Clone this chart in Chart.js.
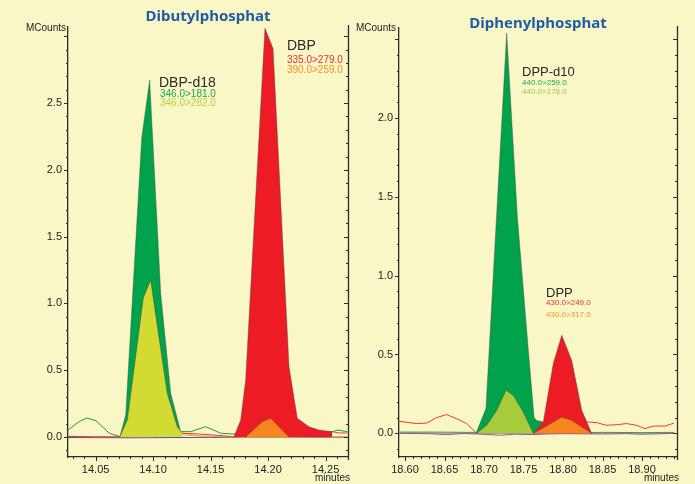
<!DOCTYPE html>
<html><head><meta charset="utf-8">
<script src="https://cdn.jsdelivr.net/npm/chart.js@4.4.1/dist/chart.umd.min.js"></script>
<style>
html,body{margin:0;padding:0;background:#faf7c7;}
body{width:695px;height:484px;position:relative;overflow:hidden;font-family:"Liberation Sans",Arial,sans-serif;color:#222;}
canvas{position:absolute;top:0;}
.t{position:absolute;white-space:nowrap;line-height:1;}
.title{font-family:"Noto Sans",sans-serif;font-weight:700;font-size:15px;color:#1f5ca6;text-align:center;width:200px;}
.lab{font-size:14px;color:#2a2a2a;}
.sm{font-size:10px;}
.xs{font-size:8px;}
.ax{font-size:10px;color:#222;}
</style></head><body>
<canvas id="c1" width="350" height="484" style="left:0px"></canvas>
<canvas id="c2" width="345" height="484" style="left:350px"></canvas>

<div class="t title" style="left:108px;top:8px">Dibutylphosphat</div>
<div class="t title" style="left:438px;top:15px">Diphenylphosphat</div>

<div class="t ax" style="left:26px;top:23px">MCounts</div>
<div class="t ax" style="left:356px;top:23px">MCounts</div>
<div class="t ax" style="left:315px;top:473px">minutes</div>
<div class="t ax" style="left:644px;top:473px">minutes</div>

<div class="t lab" style="left:159px;top:75px">DBP-d18</div>
<div class="t sm" style="left:160px;top:88.5px;color:#1aa84f">346.0&gt;181.0</div>
<div class="t sm" style="left:160px;top:97.5px;color:#b9cf3a">346.0&gt;282.0</div>
<div class="t lab" style="left:287px;top:38px">DBP</div>
<div class="t sm" style="left:287px;top:54.5px;color:#ee2a30">335.0&gt;279.0</div>
<div class="t sm" style="left:287px;top:64.5px;color:#f5902a">390.0&gt;259.0</div>

<div class="t lab" style="left:522px;top:65px;font-size:13px">DPP-d10</div>
<div class="t xs" style="left:522px;top:79px;color:#1aa84f">440.0&gt;259.0</div>
<div class="t xs" style="left:522px;top:88px;color:#a8c83a">440.0&gt;178.0</div>
<div class="t lab" style="left:546px;top:286px;font-size:13px">DPP</div>
<div class="t xs" style="left:546px;top:299px;color:#ee2a30">430.0&gt;249.0</div>
<div class="t xs" style="left:546px;top:311px;color:#f5902a">430.0&gt;317.0</div>

<script>
// ---------- LEFT PANEL: Dibutylphosphat (minutes, MCounts) ----------
const L_xTicks = [14.05, 14.10, 14.15, 14.20, 14.25];
const L_yTicks = [0.0, 0.5, 1.0, 1.5, 2.0, 2.5];
const L_yMarks = [0.0, 0.5, 1.0, 1.5, 2.0, 2.5, 3.0];

// DBP-d18 346.0>181.0 (peak area)
const dbpd18_q_t = [14.0710, 14.0762, 14.0901, 14.0970, 14.1066, 14.1153, 14.1240];
const dbpd18_q_v = [0.000, 0.165, 2.236, 2.672, 1.076, 0.327, 0.040];
// DBP-d18 346.0>282.0 (peak area)
const dbpd18_c_t = [14.0710, 14.0776, 14.0915, 14.0979, 14.1037, 14.1123, 14.1210, 14.1254];
const dbpd18_c_v = [0.000, 0.127, 1.040, 1.175, 0.826, 0.327, 0.077, 0.028];
// DBP 335.0>279.0 (peak area)
const dbp_q_t = [14.1703, 14.1762, 14.1805, 14.1973, 14.2043, 14.2182, 14.2254, 14.2356, 14.2443, 14.2556];
const dbp_q_v = [0.000, 0.127, 0.427, 3.060, 2.909, 0.526, 0.140, 0.077, 0.052, 0.040];
// DBP 390.0>259.0 (peak area)
const dbp_c_t = [14.1805, 14.1950, 14.2023, 14.2080, 14.2182];
const dbp_c_v = [0.000, 0.115, 0.140, 0.090, 0.000];

// baseline traces
const L_green_t = [14.026, 14.0356, 14.0425, 14.0503, 14.0617, 14.0710, 14.1240, 14.1327, 14.1457, 14.1588, 14.1689, 14.200, 14.230, 14.2530, 14.2602, 14.2689];
const L_green_v = [0.052, 0.115, 0.142, 0.122, 0.030, 0.002, 0.040, 0.040, 0.077, 0.028, 0.022, 0.020, 0.025, 0.028, 0.052, 0.040];
const L_red_t = [14.026, 14.060, 14.090, 14.110, 14.120, 14.140, 14.160, 14.1703, 14.2556, 14.2620, 14.2689];
const L_red_v = [0.004, 0.000, 0.003, 0.015, 0.030, 0.022, 0.010, 0.000, 0.040, 0.030, 0.030];
const L_orange_t = [14.026, 14.050, 14.070, 14.100, 14.118, 14.130, 14.150, 14.1805, 14.2182, 14.240, 14.2689];
const L_orange_v = [0.006, 0.002, 0.004, 0.002, 0.025, 0.012, 0.004, 0.000, 0.000, 0.003, 0.002];
const L_lime_t = [14.1254, 14.140, 14.170, 14.2689];
const L_lime_v = [0.028, 0.008, 0.000, 0.000];
const L_blue_t = [14.026, 14.080, 14.150, 14.2689];
const L_blue_v = [-0.004, -0.006, -0.003, -0.004];

// ---------- RIGHT PANEL: Diphenylphosphat ----------
const R_xTicks = [18.60, 18.65, 18.70, 18.75, 18.80, 18.85, 18.90];
const R_yTicks = [0.0, 0.5, 1.0, 1.5, 2.0];
const R_yMarks = [0.0, 0.5, 1.0, 1.5, 2.0, 2.5];

// DPP-d10 440.0>259.0
const dppd10_q_t = [18.6899, 18.7025, 18.7287, 18.7422, 18.7561, 18.7633, 18.7658, 18.7751, 18.7790];
const dppd10_q_v = [0.000, 0.157, 2.538, 1.373, 0.527, 0.103, 0.083, 0.072, 0.000];
// DPP-d10 440.0>178.0
const dppd10_c_t = [18.6908, 18.7034, 18.7161, 18.7278, 18.7371, 18.7497, 18.7624];
const dppd10_c_v = [0.000, 0.051, 0.146, 0.273, 0.241, 0.135, 0.000];
// DPP 430.0>249.0
const dpp_q_t = [18.7624, 18.7751, 18.7877, 18.7984, 18.8110, 18.8237, 18.8363];
const dpp_q_v = [0.000, 0.072, 0.443, 0.622, 0.463, 0.146, 0.000];
// DPP 430.0>317.0
const dpp_c_t = [18.7624, 18.7772, 18.7877, 18.7984, 18.8110, 18.8237, 18.8363];
const dpp_c_v = [0.000, 0.040, 0.072, 0.103, 0.083, 0.040, 0.000];

const R_red_t = [18.5928, 18.6148, 18.6275, 18.6401, 18.6528, 18.6654, 18.6781, 18.6899, 18.8320, 18.8426, 18.8553, 18.8680, 18.8806, 18.8933, 18.9038, 18.9143, 18.9291, 18.9405];
const R_red_v = [0.076, 0.062, 0.065, 0.100, 0.119, 0.093, 0.062, 0.004, 0.072, 0.068, 0.051, 0.055, 0.062, 0.051, 0.030, 0.046, 0.046, 0.065];
const R_green_t = [18.5928, 18.640, 18.6899, 18.7790, 18.800, 18.850, 18.900, 18.9405];
const R_green_v = [0.008, 0.008, 0.006, 0.004, 0.004, 0.006, 0.005, 0.006];
const R_purple_t = [18.5928, 18.630, 18.6528, 18.675, 18.700, 18.720, 18.740, 18.760, 18.780, 18.800, 18.850, 18.880, 18.900, 18.9405];
const R_purple_v = [0.000, -0.002, -0.008, -0.001, -0.006, -0.012, -0.005, -0.008, -0.004, -0.002, -0.004, -0.002, -0.006, 0.000];
const R_gray_t = [18.5928, 18.700, 18.800, 18.9405];
const R_gray_v = [0.002, 0.001, 0.002, 0.002];

// ---------- helpers ----------
const pts = (t, v) => t.map((x, i) => ({x: x, y: v[i]}));
function area(t, v, color, order) {
  return {data: pts(t, v), fill: 'origin', backgroundColor: color, borderColor: 'rgba(70,70,60,0.55)',
          borderWidth: 0.8, pointRadius: 0, tension: 0, order: order};
}
function line(t, v, color, order) {
  return {data: pts(t, v), fill: false, borderColor: color, borderWidth: 1, pointRadius: 0, tension: 0, order: order};
}

const tickPlugin = {
  id: 'ticks',
  afterDraw(chart) {
    const o = chart.options.plugins.ticks;
    const {ctx, chartArea: a, scales: {x, y}} = chart;
    ctx.save();
    ctx.strokeStyle = '#2b2b2b';
    ctx.lineWidth = 1.3;
    ctx.beginPath();
    ctx.moveTo(a.right + 0.5, a.top - 2);
    ctx.lineTo(a.right + 0.5, a.bottom + 3);
    ctx.stroke();
    ctx.lineWidth = 1;
    ctx.beginPath();
    for (let k = Math.ceil(y.min * 10); k <= Math.floor(y.max * 10); k++) {
      const py = Math.round(y.getPixelForValue(k / 10)) + 0.5;
      const major = o.yMarks.some(m => Math.abs(m - k / 10) < 1e-6);
      const L = major ? 4 : 2;
      ctx.moveTo(a.left - L, py); ctx.lineTo(a.left, py);
      ctx.moveTo(a.right - L, py); ctx.lineTo(a.right, py);
    }
    for (let k = Math.ceil(x.min * 100 - 1e-6); k <= Math.floor(x.max * 100 + 1e-6); k++) {
      const px = Math.round(x.getPixelForValue(k / 100)) + 0.5;
      const major = o.xMarks.some(m => Math.abs(m - k / 100) < 1e-6);
      const L = major ? 4 : 2;
      ctx.moveTo(px, a.bottom); ctx.lineTo(px, a.bottom + L);
    }
    ctx.stroke();
    ctx.restore();
  }
};

function makeChart(id, cfg) {
  return new Chart(document.getElementById(id), {
    type: 'line',
    data: {datasets: cfg.datasets},
    plugins: [tickPlugin],
    options: {
      responsive: false, animation: false, devicePixelRatio: 1,
      layout: {padding: {top: cfg.top, right: cfg.right, left: 0, bottom: 0}},
      plugins: {legend: {display: false}, tooltip: {enabled: false},
                ticks: {yMarks: cfg.yMarks, xMarks: cfg.xTicks}},
      scales: {
        x: {type: 'linear', min: cfg.xmin, max: cfg.xmax,
            afterFit: s => { s.height = 484 - cfg.bottom; },
            afterBuildTicks: s => { s.ticks = cfg.xTicks.map(v => ({value: v})); },
            grid: {display: false, drawTicks: false},
            border: {display: true, color: '#2b2b2b', width: 1.3},
            ticks: {padding: 6, maxRotation: 0, autoSkip: false, color: '#222',
                    font: {family: 'Liberation Sans', size: 11},
                    callback: v => v.toFixed(2)}},
        y: {type: 'linear', min: cfg.ymin, max: cfg.ymax,
            afterFit: s => { s.width = cfg.left; },
            afterBuildTicks: s => { s.ticks = cfg.yTicks.map(v => ({value: v})); },
            grid: {display: false, drawTicks: false},
            border: {display: true, color: '#2b2b2b', width: 1.3},
            ticks: {padding: 6, autoSkip: false, color: '#222',
                    font: {family: 'Liberation Sans', size: 11},
                    callback: v => v.toFixed(1)}}
      }
    }
  });
}

const GREEN = '#00a24c', LIME = '#d3db33', RED = '#ed1c24', ORANGE = '#f6841f', LGREEN = '#a7cb3a';

makeChart('c1', {
  left: 68, right: 2, top: 27, bottom: 457,
  xmin: 14.026, xmax: 14.2695, ymin: -0.15, ymax: 3.07,
  xTicks: L_xTicks, yTicks: L_yTicks, yMarks: L_yMarks,
  datasets: [
    area(dbpd18_c_t, dbpd18_c_v, LIME, 1),
    area(dbp_c_t, dbp_c_v, ORANGE, 1),
    area(dbpd18_q_t, dbpd18_q_v, GREEN, 2),
    area(dbp_q_t, dbp_q_v, RED, 2),
    line(L_green_t, L_green_v, '#1e9a45', 5),
    line(L_red_t, L_red_v, '#ee3a30', 6),
    line(L_orange_t, L_orange_v, '#f5a050', 7),
    line(L_lime_t, L_lime_v, '#c8d040', 7),
    line(L_blue_t, L_blue_v, '#3a56b0', 8)
  ]
});

makeChart('c2', {
  left: 49, right: 18, top: 28, bottom: 457,
  xmin: 18.5924, xmax: 18.9443, ymin: -0.15, ymax: 2.57,
  xTicks: R_xTicks, yTicks: R_yTicks, yMarks: R_yMarks,
  datasets: [
    area(dppd10_c_t, dppd10_c_v, LGREEN, 1),
    area(dpp_c_t, dpp_c_v, ORANGE, 1),
    area(dpp_q_t, dpp_q_v, RED, 2),
    area(dppd10_q_t, dppd10_q_v, GREEN, 3),
    line(R_red_t, R_red_v, '#ee3a30', 5),
    line(R_green_t, R_green_v, '#3aa050', 6),
    line(R_purple_t, R_purple_v, '#a04aa8', 7),
    line(R_gray_t, R_gray_v, '#8a8a80', 8)
  ]
});
</script>
</body></html>
